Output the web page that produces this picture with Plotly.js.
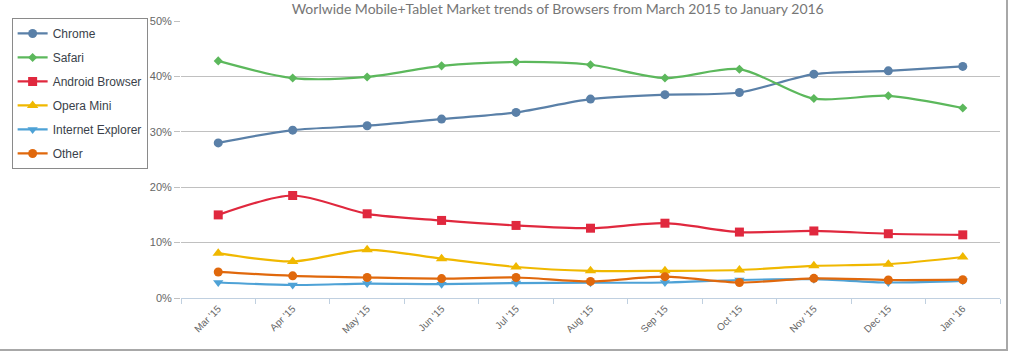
<!DOCTYPE html>
<html>
<head>
<meta charset="utf-8">
<script src="https://cdn.plot.ly/plotly-3.0.1.min.js"></script>
<style>
  html, body { margin: 0; padding: 0; background: #fff; }
  #wrap { position: relative; width: 1014px; height: 351px; }
  #chart { width: 1014px; height: 351px; }
  #frame { position: absolute; left: 0; top: 0; width: 1006px; height: 349px;
           border-right: 2px solid #a8a8a8; border-bottom: 2px solid #a8a8a8; pointer-events: none; }
</style>
</head>
<body>
<div id="wrap"><div id="chart"></div><div id="frame"></div></div>
<script>
const months = ["Mar '15","Apr '15","May '15","Jun '15","Jul '15","Aug '15","Sep '15","Oct '15","Nov '15","Dec '15","Jan '16"];
const chrome  = [28.0, 30.3, 31.1, 32.3, 33.5, 35.9, 36.7, 37.1, 40.4, 41.0, 41.8];
const safari  = [42.8, 39.7, 39.9, 41.9, 42.6, 42.1, 39.7, 41.3, 36.0, 36.5, 34.3];
const android = [15.0, 18.5, 15.2, 14.0, 13.1, 12.6, 13.5, 11.9, 12.1, 11.6, 11.4];
const opera   = [8.1, 6.6, 8.7, 7.1, 5.6, 4.9, 4.9, 5.05, 5.8, 6.1, 7.4];
const ie      = [2.8, 2.35, 2.6, 2.5, 2.7, 2.75, 2.8, 3.25, 3.4, 2.8, 3.1];
const other   = [4.7, 4.0, 3.7, 3.5, 3.7, 3.0, 3.85, 2.8, 3.55, 3.25, 3.3];

const seriesNames = ["Chrome","Safari","Android Browser","Opera Mini","Internet Explorer","Other"];
const seriesData = [chrome, safari, android, opera, ie, other];
const colors = ["#5a80a8","#5cb85c","#e0283e","#f0b800","#4ea2d6","#e0680c"];
const symbols = ["circle","diamond","square","triangle-up","triangle-down","circle"];
const sizes = [9, 7, 9, 10, 9, 9];

const traces = seriesNames.map((n, i) => ({
  type: 'scatter', mode: 'lines+markers', name: n, x: months, y: seriesData[i],
  legendgroup: 'g' + i,
  line: { color: colors[i], width: 2.2, shape: 'spline', smoothing: 0.8 },
  marker: { color: colors[i], symbol: symbols[i], size: sizes[i] },
  hoverinfo: 'x+y+name'
}));

const layout = {
  width: 1014, height: 351,
  margin: { l: 178, r: 14, t: 21, b: 53 },
  paper_bgcolor: '#fff', plot_bgcolor: '#fff',
  title: { text: 'Worlwide Mobile+Tablet Market trends of Browsers from March 2015 to January 2016',
           font: { family: 'Lato, Open Sans, sans-serif', size: 14, color: '#767676' },
           x: 0.55, xanchor: 'center', y: 0.988, yanchor: 'top' },
  font: { family: 'Liberation Sans, Arial, sans-serif', color: '#555' },
  showlegend: true,
  legend: {
    x: -0.2068, xanchor: 'left', y: 1.011, yanchor: 'top',
    bordercolor: '#8a8a8a', borderwidth: 1, bgcolor: '#fff',
    font: { family: 'Liberation Sans, Arial, sans-serif', size: 12, color: '#3a3f4a' },
    tracegroupgap: 5, itemwidth: 30
  },
  xaxis: {
    type: 'category', tickangle: -45, showgrid: false,
    showline: true, linecolor: '#c0d0e0', linewidth: 1,
    ticks: 'outside', ticklen: 5, tickcolor: '#c0d0e0', tickson: 'boundaries',
    tickfont: { size: 10, color: '#666' }, range: [-0.5, 10.5], zeroline: false
  },
  yaxis: {
    range: [0, 50], tickvals: [0,10,20,30,40,50], ticktext: ['0%','10%','20%','30%','40%','50%'],
    showgrid: true, gridcolor: '#c0c0c0', gridwidth: 1, zeroline: false,
    ticks: 'outside', ticklen: 6, tickcolor: '#c0c0c0',
    tickfont: { size: 11, color: '#666' }, showline: false
  }
};

Plotly.newPlot('chart', traces, layout, { displayModeBar: false, staticPlot: true });
</script>
</body>
</html>
